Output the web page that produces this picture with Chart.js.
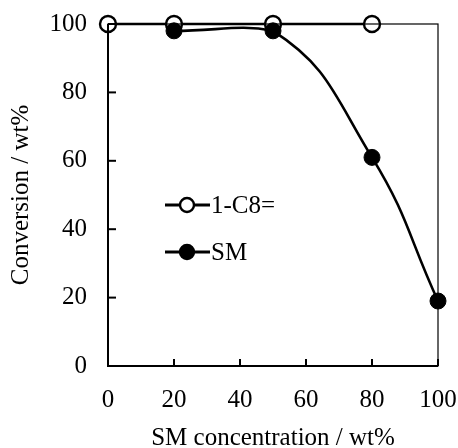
<!DOCTYPE html>
<html>
<head>
<meta charset="utf-8">
<script src="https://cdn.jsdelivr.net/npm/chart.js@4.4.1/dist/chart.umd.min.js"></script>
<style>
  html, body { margin: 0; padding: 0; background: #fff; }
  #wrap { width: 458px; height: 448px; }
</style>
</head>
<body>
<div id="wrap"><canvas id="chartConv" width="458" height="448"></canvas></div>
<script>
/* Conversion vs SM concentration */
const SM_CONC   = [0, 20, 50, 80, 100];
const OCTENE    = [100, 100, 100, 100, null];   // 1-C8=
const SM        = [null, 98, 98, 61, 19];       // SM
const X_TICKS   = [0, 20, 40, 60, 80, 100];
const Y_TICKS   = [0, 20, 40, 60, 80, 100];
const LABELS    = ['1-C8=', 'SM'];

const SERIF = "'Times New Roman', 'Liberation Serif', serif";
const FS = 25;
const INK = '#000';

function pts(ys) {
  const out = [];
  SM_CONC.forEach((x, i) => { if (ys[i] !== null) out.push({ x: x, y: ys[i] }); });
  return out;
}

// frame, inward ticks and the in-plot legend
const framePlugin = {
  id: 'frame',
  afterDatasetsDraw(chart) {
    const { ctx, chartArea: a, scales } = chart;
    ctx.save();
    ctx.strokeStyle = INK;
    ctx.lineWidth = 1.2;
    ctx.strokeRect(a.left, a.top, a.right - a.left, a.bottom - a.top);
    ctx.lineWidth = 2;
    ctx.beginPath();
    ctx.moveTo(a.left, a.top); ctx.lineTo(a.left, a.bottom); ctx.lineTo(a.right, a.bottom);
    ctx.stroke();
    X_TICKS.forEach(v => {
      const x = scales.x.getPixelForValue(v);
      ctx.beginPath(); ctx.moveTo(x, a.bottom); ctx.lineTo(x, a.bottom - 7); ctx.stroke();
    });
    Y_TICKS.forEach(v => {
      const y = scales.y.getPixelForValue(v);
      ctx.beginPath(); ctx.moveTo(a.left, y); ctx.lineTo(a.left + 8, y); ctx.stroke();
    });
    ctx.restore();
  },
  afterDraw(chart) {
    const { ctx } = chart;
    const rows = [205, 252];
    ctx.save();
    chart.data.datasets.forEach((ds, i) => {
      const y = rows[i];
      ctx.strokeStyle = INK;
      ctx.lineWidth = 3;
      ctx.beginPath(); ctx.moveTo(165, y); ctx.lineTo(210, y); ctx.stroke();
      ctx.beginPath(); ctx.arc(187, y, 7, 0, Math.PI * 2);
      ctx.fillStyle = ds.pointBackgroundColor;
      ctx.fill();
      ctx.lineWidth = 2.4;
      ctx.stroke();
      ctx.fillStyle = INK;
      ctx.font = FS + 'px ' + SERIF;
      ctx.textBaseline = 'middle';
      ctx.textAlign = 'left';
      ctx.fillText(ds.label, 211, y + 1);
    });
    ctx.restore();
  }
};

new Chart(document.getElementById('chartConv'), {
  type: 'line',
  data: {
    datasets: [{
      label: LABELS[0],
      data: pts(OCTENE),
      borderColor: INK,
      borderWidth: 2.6,
      pointRadius: 8,
      pointBorderWidth: 2.4,
      pointBackgroundColor: '#fff',
      pointBorderColor: INK,
      tension: 0,
      clip: false,
      order: 2,
    }, {
      label: LABELS[1],
      data: pts(SM),
      borderColor: INK,
      borderWidth: 2.6,
      pointRadius: 8,
      pointBorderWidth: 1,
      pointBackgroundColor: INK,
      pointBorderColor: INK,
      tension: 0.45,
      clip: false,
      order: 1,
    }],
  },
  options: {
    responsive: false,
    animation: false,
    layout: { padding: { left: 0, top: 24, right: 20, bottom: 0 } },
    plugins: { legend: { display: false }, tooltip: { enabled: false } },
    scales: {
      x: {
        type: 'linear',
        min: 0, max: 100,
        afterBuildTicks: (s) => { s.ticks = X_TICKS.map(v => ({ value: v })); },
        afterFit: (s) => { s.height = 82; s.paddingLeft = 0; s.paddingRight = 0; },
        grid: { display: false, drawTicks: false },
        border: { display: false },
        ticks: { color: INK, padding: 19, maxRotation: 0, font: { family: SERIF, size: FS } },
        title: {
          display: true, text: 'SM concentration / wt%', color: INK,
          font: { family: SERIF, size: FS }, padding: { top: 0, bottom: -5 },
        },
      },
      y: {
        min: 0, max: 100,
        afterBuildTicks: (s) => { s.ticks = Y_TICKS.map(v => ({ value: v })); },
        afterFit: (s) => { s.width = 108; s.paddingTop = 0; s.paddingBottom = 0; },
        grid: { display: false, drawTicks: false },
        border: { display: false },
        ticks: { color: INK, padding: 21, font: { family: SERIF, size: FS } },
        title: {
          display: true, text: 'Conversion / wt%', color: INK,
          font: { family: SERIF, size: FS }, padding: { top: 6, bottom: 0 },
        },
      },
    },
  },
  plugins: [framePlugin],
});
</script>
</body>
</html>
